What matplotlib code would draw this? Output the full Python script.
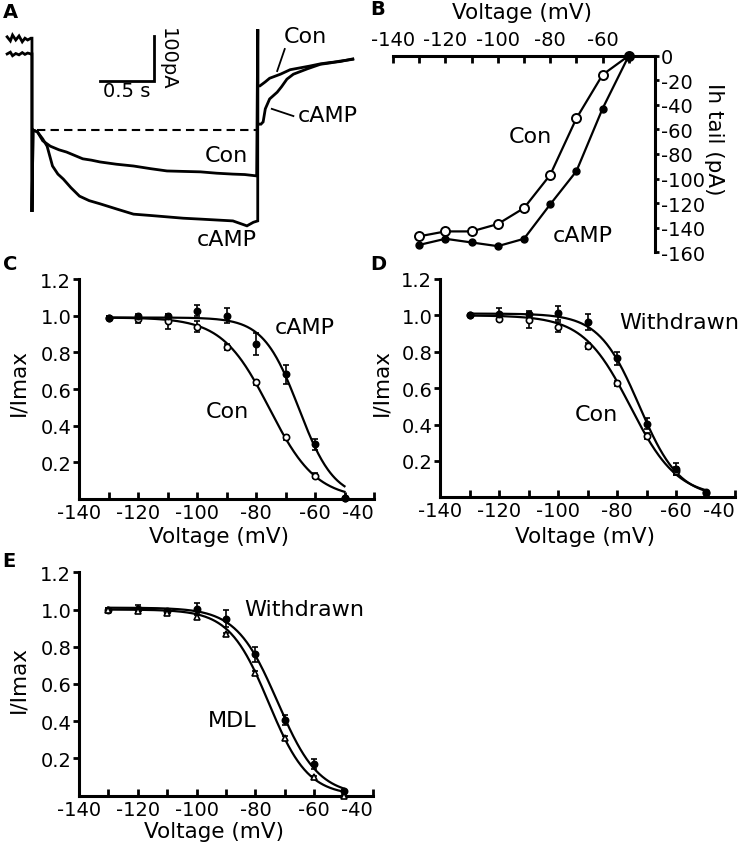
import numpy as np
import matplotlib
matplotlib.use("Agg")
import matplotlib.pyplot as plt

W, H = 748, 853
plt.rcParams['font.family'] = ['DejaVu Sans']
plt.rcParams['axes.unicode_minus'] = False

# ---------------- data ----------------
# Panel A: current traces (time in s, current in pA, relative to dashed level)
con_t = [-0.23, -0.20, -0.18, -0.15, -0.12, -0.09, -0.065, -0.04, -0.01, 0.0, 0.0, 0.01,
         0.05, 0.10, 0.17, 0.25, 0.32, 0.40, 0.47, 0.55, 0.63, 0.78, 0.94, 1.10, 1.25, 1.40,
         1.56, 1.71, 1.86, 1.97, 2.08, 2.09, 2.09,
         2.11, 2.16, 2.20, 2.30, 2.39, 2.48, 2.57, 2.67, 2.76, 2.85, 2.97]
con_i = [207, 198, 211, 200, 209, 196, 204, 200, 204, 204, -182, 0,
         -4, -24, -36, -44, -49, -57, -64, -67, -71, -76, -80, -86, -91, -92,
         -93, -96, -98, -99, -102, 224, 98,
         98, 107, 115, 124, 134, 138, 142, 147, 150, 152, 158]
camp_t = [-0.23, -0.20, -0.18, -0.15, -0.12, -0.09, -0.065, -0.04, -0.01, 0.0, 0.0, 0.01,
          0.05, 0.10, 0.14, 0.19, 0.24, 0.29, 0.36, 0.44, 0.53, 0.63, 0.71, 0.79, 0.94, 1.10,
          1.25, 1.40, 1.56, 1.71, 1.86, 1.99, 2.05, 2.09, 2.09, 2.09,
          2.12, 2.14, 2.16, 2.20, 2.27, 2.31, 2.36, 2.42, 2.55, 2.67, 2.76, 2.85, 2.97]
camp_i = [169, 173, 165, 170, 167, 172, 168, 171, 169, 169, -182, 0,
          -4, -20, -36, -80, -98, -109, -128, -147, -157, -164, -170, -176, -187, -190,
          -193, -196, -198, -200, -202, -213, -205, -202, 224, 13,
          13, 18, 47, 69, 84, 96, 113, 124, 136, 146, 149, 153, 157]
dash_t = [0.05, 2.09]
scalebar_t = 0.5      # s
scalebar_i = 100      # pA
scalebar_origin = (1.13, 109)

# Voltage steps (mV)
voltage = [-130, -120, -110, -100, -90, -80, -70, -60, -50]

# Panel B: Ih tail current (pA)
b_con = [-147, -143, -143, -137, -124, -97, -51, -15.5, 0]
b_camp = [-154, -149, -152, -155, -149, -121, -94, -43, 0]
b_xticks = [-140, -130, -120, -110, -100, -90, -80, -70, -60, -50]
b_xticklabels = ['-140', '', '-120', '', '-100', '', '-80', '', '-60', '']
b_yticks = [0, -20, -40, -60, -80, -100, -120, -140, -160]

# Panel C: Con vs cAMP (I/Imax)
c_con = [0.99, 0.98, 0.97, 0.94, 0.83, 0.636, 0.336, 0.127, 0.005]
c_con_err = [0.01, 0.02, 0.04, 0.03, 0.015, 0.015, 0.015, 0.015, 0.005]
c_camp = [0.99, 1.0, 1.0, 1.027, 1.0, 0.845, 0.68, 0.30, 0.005]
c_camp_err = [0.01, 0.01, 0.01, 0.03, 0.04, 0.06, 0.05, 0.03, 0.005]
c_fit_con = (0.99, -75.5, 8.0)     # amplitude, V1/2, slope
c_fit_camp = (0.99, -65.5, 6.0)

# Panel D: Con vs Withdrawn
d_con = [1.0, 0.982, 0.973, 0.936, 0.831, 0.627, 0.336, 0.145, 0.024]
d_con_err = [0.01, 0.015, 0.04, 0.03, 0.015, 0.015, 0.015, 0.02, 0.005]
d_wd = [1.0, 1.01, 1.01, 1.013, 0.964, 0.764, 0.405, 0.155, 0.027]
d_wd_err = [0.01, 0.03, 0.015, 0.04, 0.045, 0.035, 0.03, 0.035, 0.005]
d_fit_con = (1.0, -75.5, 8.0)
d_fit_wd = (1.01, -72.5, 6.8)

# Panel E: MDL vs Withdrawn
e_mdl = [0.996, 0.991, 0.982, 0.961, 0.866, 0.661, 0.309, 0.098, 0.0]
e_mdl_err = [0.01, 0.01, 0.01, 0.01, 0.01, 0.01, 0.01, 0.01, 0.005]
e_wd = [1.0, 1.004, 0.99, 1.004, 0.95, 0.759, 0.407, 0.17, 0.027]
e_wd_err = [0.01, 0.02, 0.01, 0.03, 0.045, 0.04, 0.025, 0.027, 0.005]
e_fit_mdl = (1.0, -75.5, 6.7)
e_fit_wd = (1.01, -72.5, 7.0)

iv_xticks = [-140, -130, -120, -110, -100, -90, -80, -70, -60, -50, -40]
iv_xticklabels = ['-140', '', '-120', '', '-100', '', '-80', '', '-60', '', '-40']
iv_yticks = [0.2, 0.4, 0.6, 0.8, 1.0, 1.2]
iv_yticklabels = ['0.2', '0.4', '0.6', '0.8', '1.0', '1.2']

# ---------------- figure ----------------
fig = plt.figure(figsize=(W / 100, H / 100), dpi=100)
fig.patch.set_facecolor('white')


def add_ax(l, t, r, b):
    return fig.add_axes([l / W, 1 - b / H, (r - l) / W, (b - t) / H])


def fpos(px, py):
    return (px / W, 1 - py / H)


TICK_FS = 14
LAB_FS = 15.5
ANN_FS = 16
LW_AX = 2.2

# ---- Panel A ----
axA = add_ax(0, 0, 365, 258)
axA.set_xlim(-0.296, 3.083)
axA.set_ylim(-282.2, 291.1)
axA.axis('off')
axA.plot(con_t, con_i, color='k', lw=2.0, solid_joinstyle='miter')
axA.plot(camp_t, camp_i, color='k', lw=2.0, solid_joinstyle='miter')
axA.plot(dash_t, [0, 0], color='k', lw=1.5, ls=(0, (4, 2.5)))
sx, sy = scalebar_origin
axA.plot([sx - scalebar_t, sx, sx], [sy, sy, sy + scalebar_i], color='k', lw=2,
         solid_joinstyle='miter')
axA.text(sx - scalebar_t / 2, sy - 22, '0.5 s', ha='center', va='center', fontsize=TICK_FS)
axA.text(sx + 0.12, sy + scalebar_i / 2, '100pA', ha='center', va='center',
         rotation=270, fontsize=TICK_FS)
axA.text(2.53, 209, 'Con', ha='center', va='center', fontsize=ANN_FS)
axA.plot([2.34, 2.27], [180, 131], color='k', lw=1.3)
axA.text(2.74, 33, 'cAMP', ha='center', va='center', fontsize=ANN_FS)
axA.plot([2.22, 2.42], [47, 31], color='k', lw=1.3)
axA.text(1.80, -56, 'Con', ha='center', va='center', fontsize=ANN_FS)
axA.text(1.80, -242, 'cAMP', ha='center', va='center', fontsize=ANN_FS)

# ---- Panel B ----
axB = add_ax(393, 56.7, 655, 253.3)
axB.set_xlim(-140, -40)
axB.set_ylim(-160, 0)
axB.xaxis.tick_top()
axB.yaxis.tick_right()
axB.spines['left'].set_visible(False)
axB.spines['bottom'].set_visible(False)
for s in ('top', 'right'):
    axB.spines[s].set_linewidth(LW_AX)
axB.set_xticks(b_xticks)
axB.set_xticklabels(b_xticklabels)
axB.set_yticks(b_yticks)
axB.set_yticklabels([str(v) for v in b_yticks])
axB.tick_params(axis='x', direction='in', length=5, width=2, labelsize=TICK_FS, pad=5)
axB.tick_params(axis='y', direction='out', length=3, width=2, labelsize=TICK_FS, pad=1)
axB.plot(voltage, b_con, '-o', color='k', mfc='white', mec='k', ms=6.5, mew=1.4, lw=1.6,
         clip_on=False, zorder=3)
axB.plot(voltage, b_camp, '-o', color='k', mfc='k', mec='k', ms=5, lw=1.6, clip_on=False,
         zorder=3)
axB.set_xlabel('Voltage (mV)', fontsize=LAB_FS)
axB.xaxis.set_label_position('top')
axB.xaxis.set_label_coords(*fpos(522, 13), transform=fig.transFigure)
axB.xaxis.label.set_va('center')
axB.set_ylabel('Ih tail (pA)', fontsize=LAB_FS, rotation=270)
axB.yaxis.set_label_position('right')
axB.yaxis.set_label_coords(*fpos(714, 139), transform=fig.transFigure)
axB.yaxis.label.set_va('center')
axB.yaxis.label.set_ha('center')
axB.text(-87.7, -65.3, 'Con', ha='center', va='center', fontsize=ANN_FS)
axB.text(-67.5, -145.9, 'cAMP', ha='center', va='center', fontsize=ANN_FS)


# ---- Panels C, D, E ----
def boltz(params, v):
    a, vh, k = params
    return a / (1 + np.exp((v - vh) / k))


vfit = np.linspace(voltage[0], voltage[-1], 300)


def style_iv(ax, ylab_pos, xlab_pos):
    ax.set_xlim(-140, -40)
    ax.set_ylim(0, 1.2)
    ax.spines['top'].set_visible(False)
    ax.spines['right'].set_visible(False)
    for s in ('left', 'bottom'):
        ax.spines[s].set_linewidth(LW_AX)
        ax.spines[s].set_capstyle('projecting')
    ax.set_xticks(iv_xticks)
    ax.set_xticklabels(iv_xticklabels)
    ax.set_yticks(iv_yticks)
    ax.set_yticklabels(iv_yticklabels)
    ax.tick_params(axis='x', direction='in', length=5, width=2, labelsize=TICK_FS, pad=3)
    ax.tick_params(axis='y', direction='out', length=4, width=2, labelsize=TICK_FS, pad=1.5)
    ax.set_ylabel('I/Imax', fontsize=LAB_FS)
    ax.yaxis.set_label_coords(*fpos(*ylab_pos), transform=fig.transFigure)
    ax.yaxis.label.set_va('center')
    ax.set_xlabel('Voltage (mV)', fontsize=LAB_FS)
    ax.xaxis.set_label_coords(*fpos(*xlab_pos), transform=fig.transFigure)
    ax.xaxis.label.set_va('center')
    labels = ax.get_xticklabels()
    labels[0].set_ha('center')
    labels[-1].set_ha('right')


def draw_series(ax, vals, errs, fit, marker, filled, ms=4.5):
    ax.plot(vfit, boltz(fit, vfit), color='k', lw=1.6, zorder=2)
    ax.errorbar(voltage, vals, yerr=errs, fmt='none', ecolor='k', elinewidth=1.2,
                capsize=2.5, capthick=1.2, zorder=3, clip_on=False)
    ax.plot(voltage, vals, ls='none', marker=marker, ms=ms, mew=1.2, mec='k',
            mfc='k' if filled else 'white', zorder=4, clip_on=False)


axC = add_ax(79, 280, 374, 500)
style_iv(axC, (18, 383), (219, 537))
draw_series(axC, c_con, c_con_err, c_fit_con, 'o', False)
draw_series(axC, c_camp, c_camp_err, c_fit_camp, 'o', True)
axC.text(-63.4, 0.938, 'cAMP', ha='center', va='center', fontsize=ANN_FS)
axC.text(-89.8, 0.48, 'Con', ha='center', va='center', fontsize=ANN_FS)

axD = add_ax(440, 280, 735, 498.3)
style_iv(axD, (381, 383), (585, 537))
draw_series(axD, d_con, d_con_err, d_fit_con, 'o', False)
draw_series(axD, d_wd, d_wd_err, d_fit_wd, 'o', True)
axD.text(-59.0, 0.965, 'Withdrawn', ha='center', va='center', fontsize=ANN_FS)
axD.text(-86.9, 0.458, 'Con', ha='center', va='center', fontsize=ANN_FS)

axE = add_ax(79, 573.3, 373, 796.7)
style_iv(axE, (18, 680), (214, 832))
draw_series(axE, e_wd, e_wd_err, e_fit_wd, 'o', True)
draw_series(axE, e_mdl, e_mdl_err, e_fit_mdl, '^', False, ms=5)
axE.text(-63.5, 1.003, 'Withdrawn', ha='center', va='center', fontsize=ANN_FS)
axE.text(-88.0, 0.407, 'MDL', ha='center', va='center', fontsize=ANN_FS)

# ---- panel letters ----
for letter, (px, py) in zip(['A', 'B', 'C', 'D', 'E'],
                            [(3, 3), (370, 0), (3, 255), (370, 255), (2, 552)]):
    fig.text(px / W, 1 - py / H, letter, ha='left', va='top', fontsize=14,
             fontweight='bold')

fig.savefig('out.png', dpi=100, facecolor='white')
